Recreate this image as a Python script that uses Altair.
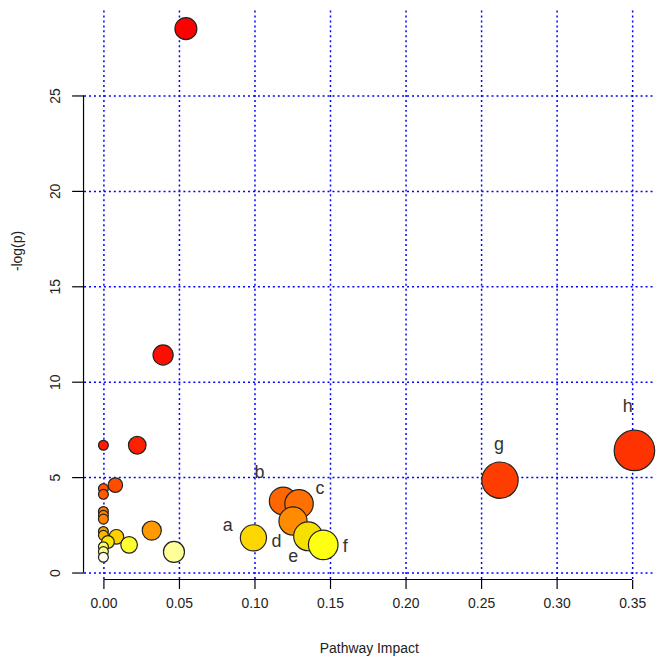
import altair as alt
import pandas as pd

# Pathway points: impact (x), -log(p) (y), fill colour
impact = [0.0546, 0.0395, 0.0, 0.0224, 0.3515, 0.2625, 0.0079, 0.0, 0.0,
          0.119, 0.1295, 0.0, 0.0, 0.0, 0.1255, 0.032, 0.0, 0.0, 0.0086,
          0.1355, 0.0993, 0.003, 0.1455, 0.017, 0.0, 0.0, 0.0467, 0.0]
neglogp = [28.5, 11.4, 6.67, 6.67, 6.4, 4.84, 4.58, 4.4, 4.1,
           3.75, 3.6, 3.2, 3.0, 2.8, 2.7, 2.2, 2.15, 1.95, 1.87,
           1.9, 1.82, 1.6, 1.45, 1.45, 1.35, 1.1, 1.08, 0.8]
fills = ["#FF0000", "#FF0D00", "#FF1A00", "#FF2000", "#FF3300", "#FF3D00", "#FF4D00", "#FF5500", "#FF5C00",
         "#FF6600", "#FF7000", "#FF7A00", "#FF8000", "#FF8500", "#FF8C00", "#FF9900", "#E6A800", "#FFB800", "#FFD000",
         "#F5E000", "#FFD700", "#FFE800", "#FFFF10", "#FFFF30", "#FFFF66", "#FFFF88", "#FFFF99", "#FFFFEE"]

# Annotation letters
label_text = ["a", "b", "c", "d", "e", "f", "g", "h"]
label_x = [0.0822, 0.1033, 0.1434, 0.1145, 0.1257, 0.160, 0.2618, 0.347]
label_y = [2.45, 5.2, 4.4, 1.6, 0.83, 1.35, 6.7, 8.65]

x_ticks = [0, 0.05, 0.10, 0.15, 0.20, 0.25, 0.30, 0.35]
y_ticks = [0, 5, 10, 15, 20, 25]

pts = pd.DataFrame({"impact": impact, "neglogp": neglogp, "fill": fills,
                    "ord": list(range(len(impact)))})
labs = pd.DataFrame({"t": label_text, "impact": label_x, "neglogp": label_y})
xaxis_df = pd.DataFrame({"impact": [x_ticks[0]], "x2": [x_ticks[-1]]})
yaxis_df = pd.DataFrame({"neglogp": [y_ticks[0]], "y2": [y_ticks[-1]]})

W, H = 574, 573
FONT = "Liberation Sans"
max_imp = max(impact)

xscale = alt.Scale(domain=[-0.013158, 0.36447], nice=False, zero=False)
yscale = alt.Scale(domain=[-0.3646, 29.479], nice=False, zero=False)

xaxis = alt.Axis(values=x_ticks, format=".2f", grid=True, gridColor="#0000FF",
                 gridOpacity=1, gridDash=[2, 3], gridWidth=1.5, domain=False, tickSize=9,
                 tickColor="#000000", tickWidth=1.2, labelFont=FONT, labelFontSize=14,
                 labelColor="#222222", labelPadding=8, title="Pathway Impact",
                 titleFont=FONT, titleFontSize=14, titleFontWeight="normal",
                 titleColor="#222222", titleY=69, titleBaseline="middle")
yaxis = alt.Axis(values=y_ticks, grid=True, gridColor="#0000FF", gridOpacity=1,
                 gridDash=[2, 3], gridWidth=1.5, domain=False, tickSize=12,
                 tickColor="#000000", tickWidth=1.2, labelFont=FONT, labelFontSize=14,
                 labelColor="#222222", labelAngle=270, labelAlign="center",
                 labelBaseline="bottom", labelPadding=9, title="-log(p)", titleFont=FONT,
                 titleFontSize=14, titleFontWeight="normal", titleColor="#222222",
                 titleAngle=270, titleX=-66, titleY=242, titleAlign="center",
                 titleBaseline="middle")

X = alt.X("impact:Q", scale=xscale, axis=xaxis)
Y = alt.Y("neglogp:Q", scale=yscale, axis=yaxis)

circles = alt.Chart(pts).transform_calculate(
    r=f"5.6 + 17.4*sqrt(datum.impact/{max_imp})",
    area="PI*datum.r*datum.r",
).mark_circle(opacity=1, stroke="#222222", strokeWidth=1.2).encode(
    x=X, y=Y,
    size=alt.Size("area:Q", scale=None, legend=None),
    fill=alt.Fill("fill:N", scale=None, legend=None),
    order=alt.Order("ord:Q"),
)

labels = alt.Chart(labs).mark_text(font=FONT, fontSize=18, color="#333333").encode(
    x=X, y=Y, text="t:N",
)

x_line = alt.Chart(xaxis_df).mark_rule(color="#000000", strokeWidth=1.2).encode(
    x=X, x2="x2:Q", y=alt.value(H))
y_line = alt.Chart(yaxis_df).mark_rule(color="#000000", strokeWidth=1.2).encode(
    y=Y, y2="y2:Q", x=alt.value(0))

chart = alt.layer(circles, labels, x_line, y_line).properties(
    width=W, height=H,
    background="white",
    autosize=alt.AutoSizeParams(type="none"),
    padding={"left": 76, "top": 0, "right": 4, "bottom": 80},
).configure_view(stroke=None)

chart.save("out.html", embed_options={"renderer": "svg", "actions": False})
